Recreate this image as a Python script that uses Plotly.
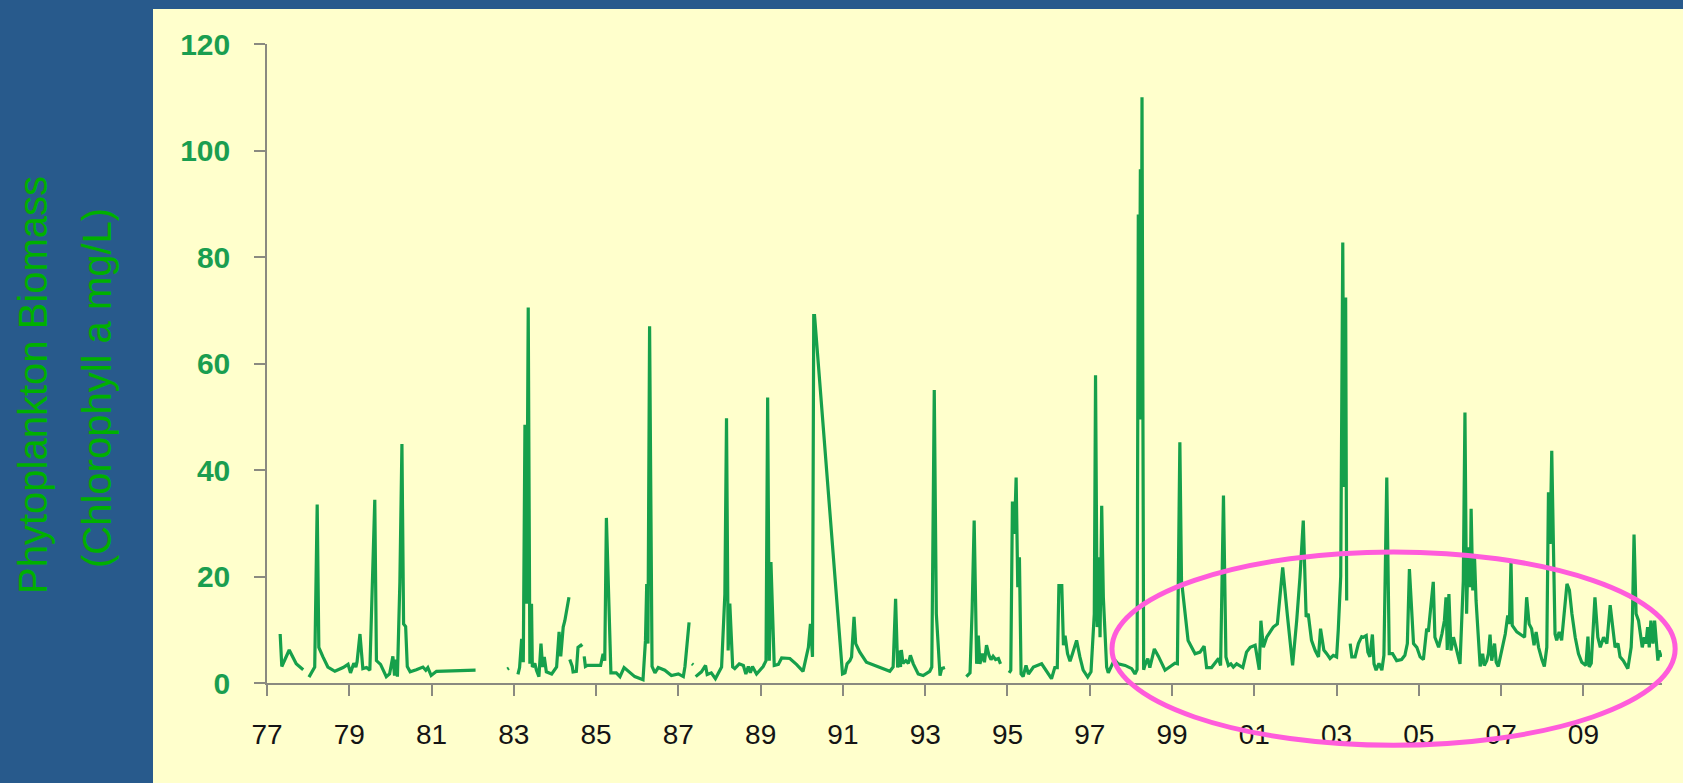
import plotly.graph_objects as go

# ---- data (decimal year, chlorophyll a) ; None marks gaps in the record ----
years = [
    1977.32, 1977.36, 1977.54, 1977.71, 1977.88, None,
    1978.02, 1978.16, 1978.22, 1978.26, 1978.36, 1978.48, 1978.65, 1978.85, 1978.97, 1979.03,
    1979.11, 1979.16, 1979.19, 1979.26, 1979.33, 1979.42, 1979.50, 1979.62, 1979.66, 1979.76,
    1979.90, 1979.98, 1980.06, 1980.10, 1980.14, 1980.17, 1980.23, 1980.28, 1980.32, 1980.37,
    1980.41, 1980.48, 1980.63, 1980.79, 1980.86, 1980.91, 1980.99, 1981.12, 1982.07, None,
    1982.84, 1982.88, None,
    1983.10, 1983.14, 1983.19, 1983.23, 1983.27, 1983.31, 1983.35, 1983.39, 1983.43, 1983.45,
    1983.51, 1983.55, 1983.61, 1983.66, 1983.70, 1983.74, 1983.79, 1983.92, 1984.04, 1984.10,
    1984.14, 1984.20, 1984.24, 1984.34, None,
    1984.36, 1984.42, 1984.44, 1984.52, 1984.56, 1984.63, 1984.66, None,
    1984.71, 1984.74, 1984.79, 1985.11, 1985.17, 1985.21, 1985.25, 1985.36, 1985.49, 1985.58,
    1985.68, 1985.82, 1985.94, 1986.14, 1986.20, 1986.23, 1986.26, 1986.30, 1986.36, 1986.43,
    1986.51, 1986.67, 1986.83, 1987.00, 1987.12, 1987.16, 1987.26, None,
    1987.33, 1987.36, None,
    1987.42, 1987.56, 1987.66, 1987.70, 1987.80, 1987.90, 1988.05, 1988.13, 1988.17, 1988.21,
    1988.25, 1988.32, 1988.37, 1988.48, 1988.58, 1988.64, 1988.70, 1988.75, 1988.80, 1988.90,
    1989.06, 1989.13, 1989.17, 1989.21, 1989.25, 1989.29, 1989.33, 1989.43, 1989.51, 1989.71,
    1989.87, 1990.03, 1990.16, 1990.21, 1990.26, 1990.29, 1990.31, 1990.99, 1991.05, 1991.10,
    1991.17, 1991.21, 1991.27, 1991.31, 1991.41, 1991.57, 1991.82, 1992.14, 1992.22, 1992.28,
    1992.33, 1992.36, 1992.40, 1992.42, 1992.46, 1992.53, 1992.59, 1992.64, 1992.71, 1992.83,
    1992.95, 1993.11, 1993.16, 1993.22, 1993.27, 1993.36, 1993.40, 1993.48, None,
    1994.00, 1994.09, 1994.14, 1994.19, 1994.25, 1994.29, 1994.33, 1994.39, 1994.44, 1994.49,
    1994.55, 1994.60, 1994.65, 1994.71, 1994.78, 1994.83, None,
    1995.04, 1995.08, 1995.12, 1995.17, 1995.21, 1995.25, 1995.29, 1995.33, 1995.38, 1995.45,
    1995.51, 1995.63, 1995.83, 1995.99, 1996.07, 1996.15, 1996.21, 1996.25, 1996.32, 1996.36,
    1996.40, 1996.46, 1996.52, 1996.58, 1996.68, 1996.76, 1996.84, 1996.95, 1997.03, 1997.11,
    1997.14, 1997.18, 1997.22, 1997.25, 1997.29, 1997.33, 1997.41, 1997.45, 1997.53, 1997.60,
    1997.69, 1997.86, 1998.02, 1998.10, 1998.15, 1998.18, 1998.20, 1998.23, 1998.25, 1998.27,
    1998.31, 1998.34, 1998.41, 1998.46, 1998.57, 1998.67, 1998.83, 1998.99, 1999.07, 1999.13,
    1999.19, 1999.23, 1999.39, 1999.56, 1999.68, 1999.78, 1999.84, 1999.96, 2000.04, 2000.13,
    2000.18, 2000.25, 2000.31, 2000.37, 2000.43, 2000.49, 2000.57, 2000.65, 2000.72, 2000.81,
    2000.90, 2001.02, 2001.10, 2001.12, 2001.16, 2001.22, 2001.30, 2001.38, 2001.46, 2001.56,
    2001.69, 2001.80, 2001.93, 2002.03, 2002.11, 2002.19, 2002.26, 2002.31, 2002.39, 2002.48,
    2002.56, 2002.61, 2002.69, 2002.76, 2002.84, 2002.92, 2003.00, 2003.04, 2003.10, 2003.15,
    2003.18, 2003.22, 2003.245, None,
    2003.33, 2003.37, 2003.45, 2003.53, 2003.61, 2003.65, 2003.72, 2003.76, 2003.81, 2003.87,
    2003.91, 2003.96, 2004.03, 2004.10, 2004.15, 2004.22, 2004.28, 2004.36, 2004.46, 2004.58,
    2004.66, 2004.72, 2004.77, 2004.87, 2004.95, 2005.03, 2005.11, 2005.19, 2005.23, 2005.29,
    2005.35, 2005.39, 2005.48, 2005.56, 2005.62, 2005.66, 2005.69, 2005.73, 2005.78, 2005.84,
    2005.90, 2006.00, 2006.08, 2006.12, 2006.16, 2006.20, 2006.25, 2006.27, 2006.31, 2006.35,
    2006.39, 2006.49, 2006.55, 2006.59, 2006.65, 2006.69, 2006.73, 2006.77, 2006.84, 2006.88,
    2006.93, 2007.01, 2007.10, 2007.16, 2007.20, 2007.24, 2007.27, 2007.38, 2007.50, 2007.57,
    2007.62, 2007.68, 2007.74, 2007.80, 2007.85, 2007.91, 2007.99, 2008.05, 2008.11, 2008.15,
    2008.19, 2008.23, 2008.27, 2008.31, 2008.35, 2008.41, 2008.47, 2008.53, 2008.60, 2008.66,
    2008.72, 2008.80, 2008.88, 2008.96, 2009.06, 2009.11, 2009.14, 2009.19, 2009.24, 2009.28,
    2009.35, 2009.41, 2009.49, 2009.57, 2009.65, 2009.71, 2009.77, 2009.84, 2009.89, 2009.97,
    2010.08, 2010.16, 2010.19, 2010.23, 2010.28, 2010.34, 2010.39, 2010.43, 2010.48, 2010.52,
    2010.56, 2010.60, 2010.64, 2010.69, 2010.73, 2010.77, 2010.81, 2010.84, 2010.89,
]

chl = [
    9.2, 3.1, 6.2, 3.6, 2.5, None,
    1.1, 3.0, 33.5, 6.7, 4.9, 3.0, 2.2, 2.9, 3.5, 1.9,
    3.7, 3.0, 4.0, 9.2, 2.7, 2.9, 2.4, 34.4, 4.2, 3.5,
    1.2, 1.7, 5.0, 1.4, 4.4, 1.2, 19.0, 44.9, 11.1, 10.6,
    3.1, 2.1, 2.5, 3.0, 2.4, 2.9, 1.4, 2.2, 2.4, None,
    2.6, 2.8, None,
    1.6, 2.9, 8.3, 3.9, 48.5, 14.9, 70.5, 3.6, 14.9, 3.0,
    3.7, 2.4, 1.2, 7.4, 3.0, 4.9, 2.1, 1.7, 3.0, 9.6,
    5.0, 10.5, 11.7, 16.1, None,
    4.4, 3.1, 2.1, 2.2, 6.7, 7.1, 6.8, None,
    5.0, 3.1, 3.3, 3.3, 5.5, 4.2, 31.0, 1.9, 1.9, 1.2,
    2.9, 1.9, 1.2, 0.6, 8.0, 18.6, 7.4, 67.0, 3.1, 1.9,
    2.9, 2.4, 1.4, 1.7, 1.2, 3.1, 11.4, None,
    3.6, 3.4, None,
    1.2, 2.1, 3.3, 1.6, 1.9, 0.8, 3.0, 16.7, 49.7, 6.1,
    14.9, 3.0, 2.7, 3.6, 3.3, 1.7, 3.1, 1.9, 3.1, 1.7,
    3.1, 4.2, 53.6, 4.2, 22.7, 13.0, 3.3, 3.5, 4.7, 4.6,
    3.5, 2.2, 6.7, 11.1, 4.9, 69.0, 69.0, 1.7, 1.9, 3.6,
    4.2, 4.9, 12.4, 7.4, 5.8, 3.9, 3.1, 2.2, 3.0, 15.8,
    2.9, 6.1, 3.0, 6.2, 3.7, 4.2, 3.7, 5.2, 3.6, 1.7,
    1.4, 2.2, 3.0, 55.0, 13.0, 1.4, 2.7, 2.9, None,
    1.2, 1.9, 13.6, 30.5, 3.6, 8.9, 3.6, 5.5, 3.9, 7.1,
    5.2, 4.4, 5.0, 4.4, 4.6, 3.6, None,
    1.9, 2.4, 34.1, 28.0, 38.6, 18.0, 23.6, 1.7, 1.2, 3.3,
    1.7, 3.0, 3.6, 1.7, 0.8, 2.9, 2.9, 18.3, 18.3, 7.1,
    8.9, 5.5, 4.1, 5.5, 8.0, 4.9, 2.4, 1.1, 2.1, 13.0,
    57.8, 10.5, 23.6, 8.6, 33.3, 16.1, 3.0, 1.9, 3.1, 4.4,
    3.6, 3.3, 2.7, 1.7, 2.5, 88.0, 49.5, 96.5, 49.5, 110.0,
    2.5, 3.3, 4.6, 2.9, 6.4, 5.0, 2.4, 3.3, 3.7, 3.6,
    45.2, 19.2, 8.0, 5.5, 5.8, 6.9, 2.9, 2.9, 3.6, 4.6,
    3.3, 35.2, 4.9, 3.3, 3.6, 3.0, 3.6, 3.3, 2.9, 5.8,
    6.7, 7.1, 3.0, 2.5, 11.7, 6.7, 8.6, 9.6, 10.5, 11.1,
    21.7, 13.0, 3.3, 11.7, 19.9, 30.5, 12.4, 13.0, 8.0, 6.1,
    4.9, 10.2, 6.2, 5.5, 4.6, 5.2, 4.9, 9.9, 20.0, 82.7,
    36.8, 72.4, 15.5, None,
    7.4, 4.9, 4.9, 7.4, 8.7, 8.6, 8.9, 5.8, 4.9, 9.1,
    3.6, 2.4, 3.7, 2.4, 5.2, 38.6, 5.5, 5.5, 4.2, 4.4,
    5.2, 7.4, 21.4, 7.4, 6.7, 4.9, 4.4, 10.2, 9.6, 15.2,
    19.0, 8.6, 6.7, 9.2, 11.7, 16.1, 6.2, 16.7, 6.1, 8.6,
    6.7, 3.6, 19.2, 50.8, 13.0, 25.5, 18.0, 32.7, 17.4, 24.2,
    15.5, 3.1, 5.5, 3.3, 4.2, 5.5, 9.1, 4.2, 7.4, 3.9,
    3.1, 6.1, 9.2, 12.7, 11.1, 22.7, 10.8, 9.6, 8.9, 8.6,
    16.1, 11.1, 10.2, 7.1, 9.6, 6.7, 4.4, 3.1, 6.7, 35.8,
    26.1, 43.6, 26.1, 9.2, 8.0, 9.6, 8.0, 13.0, 18.6, 17.4,
    13.0, 8.6, 5.5, 3.9, 3.3, 8.7, 3.0, 3.7, 10.5, 16.1,
    8.6, 6.7, 8.6, 7.4, 14.6, 9.9, 6.7, 7.4, 4.9, 4.2,
    2.7, 6.7, 11.7, 27.9, 13.0, 11.7, 8.6, 6.7, 8.6, 7.4,
    10.5, 6.7, 11.7, 7.4, 11.7, 8.0, 4.2, 6.1, 4.9,
]

x_tickvals = [1977, 1979, 1981, 1983, 1985, 1987, 1989, 1991, 1993, 1995,
              1997, 1999, 2001, 2003, 2005, 2007, 2009]
x_ticktext = ["77", "79", "81", "83", "85", "87", "89", "91", "93", "95",
              "97", "99", "01", "03", "05", "07", "09"]
y_tickvals = [0, 20, 40, 60, 80, 100, 120]

title_lines = ["Phytoplankton Biomass", "(Chlorophyll a mg/L)"]

# highlight ellipse in data units (years, chlorophyll)
ellipse_x = (1997.54, 2011.23)
ellipse_y = (-11.7, 24.6)

# ---- layout geometry ----
W, H = 1683, 783
L, R, T, B = 267, 21, 44, 100
X_RANGE = [1977, 2010.91]
Y_RANGE = [0, 120]
plot_w = W - L - R
plot_h = H - T - B


def px_to_paper_x(px):
    return (px - L) / plot_w


def py_to_paper_y(py):
    return (H - B - py) / plot_h


def data_to_paper_x(v):
    return (v - X_RANGE[0]) / (X_RANGE[1] - X_RANGE[0])


def data_to_paper_y(v):
    return (v - Y_RANGE[0]) / (Y_RANGE[1] - Y_RANGE[0])


BLUE = "#285A8C"
CREAM = "#FFFFCC"
LINE_GREEN = "#16A04B"
TICK_GREEN = "#1A9E50"
TITLE_GREEN = "#00B000"
AXIS_GREY = "#8A8A80"
SANS = "Liberation Sans, Arial, sans-serif"

fig = go.Figure()
fig.add_trace(go.Scatter(
    x=years, y=chl, mode="lines", connectgaps=False,
    line=dict(color=LINE_GREEN, width=3.2),
    hoverinfo="skip", showlegend=False,
))

shapes = [
    dict(type="rect", xref="paper", yref="paper", layer="below",
         x0=px_to_paper_x(153), x1=px_to_paper_x(W + 5),
         y0=py_to_paper_y(H + 5), y1=py_to_paper_y(9),
         fillcolor=CREAM, line=dict(width=0)),
    dict(type="circle", xref="paper", yref="paper", layer="above",
         x0=data_to_paper_x(ellipse_x[0]), x1=data_to_paper_x(ellipse_x[1]),
         y0=data_to_paper_y(ellipse_y[0]), y1=data_to_paper_y(ellipse_y[1]),
         line=dict(color="#FF5CDB", width=5), fillcolor="rgba(0,0,0,0)"),
]

annotations = [
    dict(text=title_lines[0], xref="paper", yref="paper",
         x=px_to_paper_x(33), y=py_to_paper_y(385), xanchor="center", yanchor="middle",
         textangle=-90, showarrow=False,
         font=dict(family=SANS, size=40, color=TITLE_GREEN)),
    dict(text=title_lines[1], xref="paper", yref="paper",
         x=px_to_paper_x(97), y=py_to_paper_y(388), xanchor="center", yanchor="middle",
         textangle=-90, showarrow=False,
         font=dict(family=SANS, size=40, color=TITLE_GREEN)),
]

fig.update_layout(
    width=W, height=H, autosize=False,
    margin=dict(l=L, r=R, t=T, b=B, pad=0),
    paper_bgcolor=BLUE, plot_bgcolor="rgba(0,0,0,0)",
    shapes=shapes, annotations=annotations, showlegend=False,
)

fig.update_xaxes(
    range=X_RANGE, tickmode="array", tickvals=x_tickvals, ticktext=x_ticktext,
    showgrid=False, zeroline=False, showline=True, linecolor=AXIS_GREY, linewidth=1.5,
    ticks="outside", ticklen=11, tickwidth=1.5, tickcolor=AXIS_GREY,
    tickfont=dict(family=SANS, size=28, color="#141414"),
    ticklabelstandoff=15,
)
fig.update_yaxes(
    range=Y_RANGE, tickmode="array", tickvals=y_tickvals,
    showgrid=False, zeroline=False, showline=True, linecolor=AXIS_GREY, linewidth=1.5,
    ticks="outside", ticklen=11, tickwidth=1.5, tickcolor=AXIS_GREY,
    tickfont=dict(family=SANS, size=30, color=TICK_GREEN, weight="bold"),
    ticklabelstandoff=18,
)

fig.write_html(
    "out.html",
    config={"displayModeBar": False},
    post_script="document.body.style.margin='0px';document.body.style.overflow='hidden';",
)
